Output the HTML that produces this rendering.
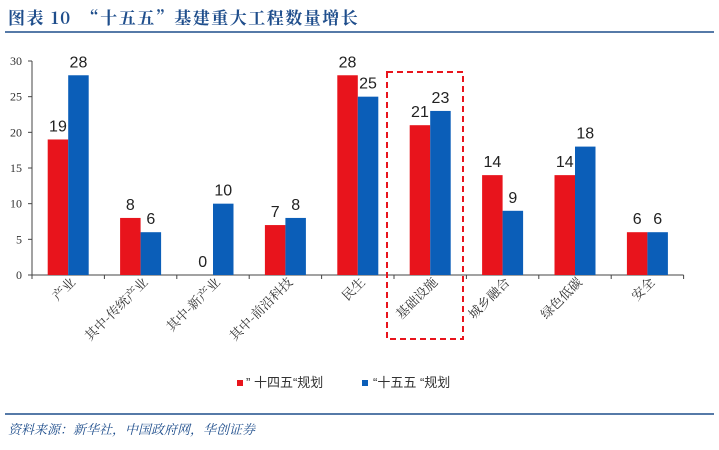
<!DOCTYPE html>
<html><head><meta charset="utf-8"><style>
body{margin:0;background:#fff;width:719px;height:450px;overflow:hidden;font-family:"Liberation Sans","Noto Sans CJK SC",sans-serif}
</style></head><body>
<svg width="719" height="450" style="position:absolute;left:0;top:0">
<text x="8" y="24" font-family="'Noto Serif CJK SC',serif" font-weight="bold" font-size="17" letter-spacing="1.5" fill="#1f4e8c">图表 10　“十五五”基建重大工程数量增长</text>
<line x1="5" y1="32" x2="714" y2="32" stroke="#1f4e8c" stroke-width="1.5"/>
<g id="plot"></g>
<rect x="387" y="72" width="76" height="267" fill="none" stroke="#e8141c" stroke-width="2" stroke-dasharray="6,4"/>
<g>
<rect x="237" y="380" width="6" height="6" fill="#e8141c"/>
<text x="246" y="387" font-size="13" fill="#333">”  十四五“规划</text>
<rect x="362" y="380" width="6" height="6" fill="#0b5eb8"/>
<text x="373" y="387" font-size="13" fill="#333">“十五五 “规划</text>
</g>
<line x1="5" y1="414" x2="714" y2="414" stroke="#1f4e8c" stroke-width="1.5"/>
<text x="8" y="434" font-size="13" font-style="italic" fill="#1f4e8c" font-family="'Noto Serif CJK SC',serif">资料来源：新华社，中国政府网，华创证券</text>
</svg>
<script>
const categories=["产业","其中-传统产业","其中-新产业","其中-前沿科技","民生","基础设施","城乡融合","绿色低碳","安全"];
const series14=[19,8,0,7,28,21,14,14,6];
const series15=[28,6,10,8,25,23,9,18,6];
const yTicks=[0,5,10,15,20,25,30];
const NS="http://www.w3.org/2000/svg";
const g=document.getElementById('plot');
const x0=32,step=72.4,y0=275,yMax=30,yTop=61;
const yS=v=>y0-(v/yMax)*(y0-yTop);
const xC=i=>x0+step*(i+0.5);
function mk(t,a,txt){const e=document.createElementNS(NS,t);for(const k in a)e.setAttribute(k,a[k]);if(txt!==undefined)e.textContent=txt;g.appendChild(e);return e;}
let ax=mk('line',{x1:x0,y1:yTop,x2:x0,y2:y0,stroke:'#444'});


let bx=mk('line',{x1:x0,y1:y0,x2:x0+step*categories.length,y2:y0,stroke:'#444'});


yTicks.forEach(v=>{
 let t=mk('line',{x1:x0-4,y1:yS(v),x2:x0,y2:yS(v),stroke:'#444'});
 
 
 let l=mk('text',{x:x0-10,y:yS(v)+4,'text-anchor':'end','font-size':12,fill:'#333','font-family':"'Liberation Serif',serif"},v);
 
 
});
for(let i=0;i<=categories.length;i++){
 let t=mk('line',{x1:x0+step*i,y1:y0,x2:x0+step*i,y2:y0+4,stroke:'#444'});
 
 
}
categories.forEach((c,i)=>{
 const cx=xC(i);
 [[series14[i],cx-20.5,'#e8141c','bar-14th'],[series15[i],cx,'#0b5eb8','bar-15th']].forEach(([v,x,col,nm])=>{
  if(v>0){let r=mk('rect',{x:x,y:yS(v),width:20.5,height:y0-yS(v),fill:col});
  
  }
  let l=mk('text',{x:x+10.25,y:yS(v)-8,'text-anchor':'middle','font-size':16,fill:'#222'},v);
  
  
 });
 let cl=mk('text',{x:cx+8,y:y0+8,'text-anchor':'end','font-size':13,fill:'#333','font-family':"'Noto Serif CJK SC',serif",transform:`rotate(-45 ${cx+8} ${y0+8})`},c);
 
 
});
</script>
</body></html>
